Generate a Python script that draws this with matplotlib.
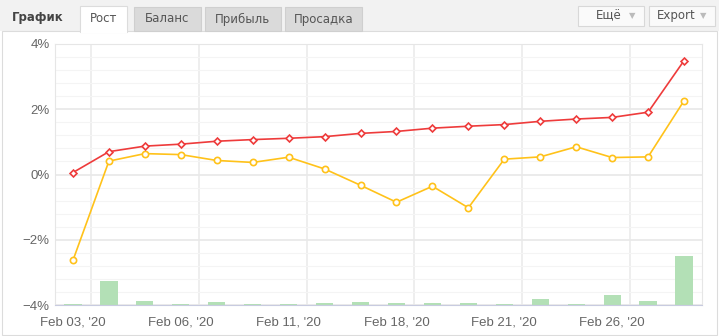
import matplotlib
matplotlib.use("Agg")
import matplotlib.pyplot as plt
from matplotlib.patches import Rectangle
import numpy as np

plt.rcParams['font.family'] = ['Liberation Sans', 'DejaVu Sans']

# data
growth = [0.06, 0.70, 0.87, 0.93, 1.02, 1.07, 1.11, 1.16, 1.26,
          1.32, 1.42, 1.48, 1.53, 1.63, 1.70, 1.75, 1.91, 3.49]
equity = [-2.63, 0.41, 0.64, 0.61, 0.43, 0.37, 0.53, 0.17, -0.33,
          -0.85, -0.36, -1.02, 0.47, 0.54, 0.85, 0.52, 0.54, 2.26]
volume = [0.015, 0.50, 0.08, 0.015, 0.06, 0.015, 0.015, 0.04, 0.06,
          0.04, 0.04, 0.04, 0.015, 0.13, 0.015, 0.20, 0.08, 1.00]
tick_labels = ["Feb 03, '20", "Feb 06, '20", "Feb 11, '20",
               "Feb 18, '20", "Feb 21, '20", "Feb 26, '20"]
tabs = ["Рост", "Баланс", "Прибыль", "Просадка"]

W, H = 719, 336
fig = plt.figure(figsize=(W / 100, H / 100), dpi=100)
fig.patch.set_facecolor("white")


def px(x, y, w, h):
    # pixel box (top-left origin) -> figure fraction
    return (x / W, 1 - (y + h) / H, w / W, h / H)


def box(x, y, w, h, fc, ec="none", z=-5):
    fx, fy, fw, fh = px(x, y, w, h)
    fig.patches.append(Rectangle((fx, fy), fw, fh, transform=fig.transFigure,
                                 facecolor=fc, edgecolor=ec, lw=0.8, zorder=z))


def text(x, y, s, **kw):
    fig.text(x / W, 1 - y / H, s, va="center", **kw)


# header strip
box(0, 0, W, 31, "#f2f2f2", z=-6)
box(2, 31, W - 4, H - 32, "white", ec="#dcdcdc", z=-6)
text(12, 17, "График", fontsize=8.5, fontweight="bold", color="#444444",
     family=["DejaVu Sans"])
tab_x = [80, 134, 205, 285]
tab_w = [47, 67, 76, 77]
for i, (t, x, w) in enumerate(zip(tabs, tab_x, tab_w)):
    if i == 0:
        box(x, 6, w, 26, "white", ec="#dcdcdc", z=-4)
        box(x + 0.5, 30, w - 1, 3, "white", z=-3)
    else:
        box(x, 7, w, 24, "#dadada", ec="#cfcfcf", z=-4)
    text(x + w / 2, 19, t, ha="center", fontsize=8.5, color="#555555",
         family=["DejaVu Sans"])
for s, x, w in [("Ещё", 578, 66), ("Export", 649, 66)]:
    box(x, 6, w, 20, "#fafafa", ec="#d8d8d8", z=-4)
    text(x + 18 if s == "Ещё" else x + 8, 16, s, fontsize=8.5, color="#555555",
         family=["DejaVu Sans"])
    text(x + w - 12, 16, "▼", fontsize=6, color="#bbbbbb", ha="center",
         family=["DejaVu Sans"])

# chart area: grid axes at the back, bars in the middle, lines on top
ax = fig.add_axes(px(55, 44, 647, 261))
axb = ax.twinx()
axl = ax.twinx()
ax.set_zorder(0)
axb.set_zorder(1)
axl.set_zorder(2)
axb.patch.set_visible(False)
axl.patch.set_visible(False)

n = len(growth)
x = np.arange(n)

axb.bar(x, volume, width=0.48, color="#b3e0b6")
axb.set_ylim(0, 5.33)

axl.plot(x, equity, color="#ffc21a", lw=1.2, marker="o", ms=4.5,
         mfc="white", mec="#ffc21a", mew=1.2, zorder=3)
axl.plot(x, growth, color="#ee3b3b", lw=1.2, marker="D", ms=3.5,
         mfc="white", mec="#ee3b3b", mew=1.2, zorder=4)
axl.set_ylim(-4, 4)

for a in (axb, axl):
    a.set_yticks([])
    for s in a.spines.values():
        s.set_visible(False)
axl.spines["bottom"].set_visible(True)
axl.spines["bottom"].set_color("#c8cbe0")

ax.set_xlim(-0.5, n - 0.5)
ax.set_ylim(-4, 4)
ax.set_yticks([-4, -2, 0, 2, 4])
ax.set_yticklabels(["\u22124%", "\u22122%", "0%", "2%", "4%"])
ax.set_yticks(np.arange(-4, 4.01, 0.4), minor=True)
ax.set_xticks(x[::3])
ax.set_xticklabels(tick_labels)
ax.set_xticks(np.arange(0.5, n - 1, 3), minor=True)

ax.grid(which="major", axis="y", color="#e8e8e8", lw=1.2)
ax.grid(which="minor", axis="y", color="#f4f4f4", lw=0.8)
ax.grid(which="minor", axis="x", color="#ebebeb", lw=1.2)
ax.tick_params(axis="both", which="both", length=0)
ax.tick_params(axis="y", labelsize=9.5, colors="#666666", pad=4)
ax.tick_params(axis="x", labelsize=9.5, colors="#666666", pad=8)
for side in ["top", "right", "left"]:
    ax.spines[side].set_color("#e6e6e6")
ax.spines["bottom"].set_visible(False)

fig.savefig("out.png", dpi=100)
